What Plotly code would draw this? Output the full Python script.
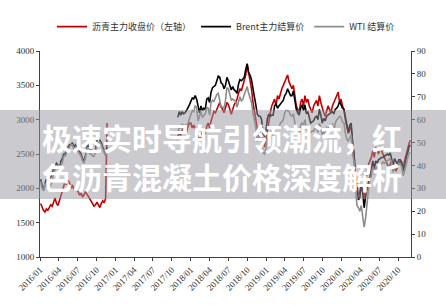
import pandas as pd
import plotly.graph_objects as go

# ---- data (weekly) ----
series_names = ["沥青主力收盘价（左轴）", "Brent主力结算价", "WTI 结算价"]

# segment 1: weekly from 2016-01-04
asphalt_2016 = [1780, 1720, 1680, 1650,
                1700, 1680, 1720, 1760, 1740,
                1800, 1860, 1780, 1750,
                1820, 1900, 1980, 2050,
                2100, 2050, 2120, 2080, 2000,
                2050, 1980, 2020, 1960,
                1950, 1900, 1930, 1880,
                1900, 1950, 1920, 1880, 1860,
                1820, 1780, 1740, 1760,
                1800, 1760, 1720, 1780, 1820,
                1790, 1850, 2950]
brent_2016 = [34, 31, 29, 32,
              34, 33, 34, 35, 36,
              39, 40, 41, 40,
              38, 42, 43, 45,
              45, 47, 48, 49, 49,
              50, 48, 49, 48,
              47, 46, 45, 43,
              42, 44, 48, 49, 47,
              47, 46, 46, 47,
              51, 52, 51, 50, 48,
              46, 45, 48]
wti_2016 = [33, 30, 29, 32,
            31, 29, 30, 32, 33,
            37, 38, 40, 39,
            36, 40, 41, 44,
            44, 46, 47, 48, 49,
            49, 47, 48, 47,
            46, 45, 44, 42,
            41, 43, 47, 48, 45,
            45, 44, 44, 46,
            49, 50, 50, 49, 47,
            45, 44, 47]

# segment 2: weekly from 2017-10-30
asphalt_1720 = [2750, 2800, 2780, 2850, 2900, 2870, 2820, 2900, 2950,
                2950, 2880, 2920, 2860, 2800,
                2750, 2700, 2780, 2820,
                2850, 2790, 2900, 2950,
                2880, 2980, 3050, 3120, 3100,
                3150, 3200, 3250, 3180,
                3150, 3100, 3180, 3250,
                3220, 3150, 3080, 3150, 3220,
                3250, 3300, 3380, 3450,
                3420, 3500, 3550, 3650,
                3800, 3700, 3600, 3450, 3250,
                3150, 3000, 2850, 2750,
                2700, 2750, 2650, 2600, 2700,
                2850, 2950, 3100, 3200,
                3250, 3300, 3200, 3350,
                3300, 3400, 3450, 3500,
                3550, 3600, 3650, 3550, 3500,
                3450, 3500, 3350, 3200,
                3150, 3100, 3250, 3300,
                3200, 3350, 3250, 3300, 3200,
                3150, 3100, 3200, 3250,
                3280, 3200, 3350, 3250, 3150,
                3100, 3050, 3150, 3200,
                3150, 3100, 3200, 3250,
                3300, 3350, 3400, 3250, 3300,
                3200, 3150, 3000, 2900,
                2800, 2850, 2900, 2650,
                2500, 2200, 2000, 1900, 1950,
                2050, 2000, 1850, 2100,
                2250, 2350, 2400, 2450,
                2550, 2450, 2600, 2550, 2500,
                2600, 2550, 2500, 2450,
                2400, 2350, 2300, 2350, 2400,
                2350, 2300, 2250, 2300,
                2350, 2400, 2350, 2300,
                2400, 2500, 2600, 2650, 2700]
brent_1720 = [61, 63.5, 62, 63.5, 62.5, 63, 64, 65, 66.5,
              68, 69.5, 69, 70.5, 69,
              65, 63, 66, 64,
              65, 64.5, 69, 69.5,
              67.5, 72, 74, 74.5, 75,
              77, 79, 78.5, 76,
              75.5, 73.5, 75, 78.5,
              77, 75, 73, 74.5, 73,
              72.5, 71.5, 75.5, 77.5,
              77, 78, 78.5, 82,
              84.5, 80.5, 79.5, 77.5, 73,
              70, 66.5, 62.5, 61.5,
              61.5, 60, 54, 52.5, 55,
              60.5, 62.5, 61.5, 62,
              62, 66, 67, 65,
              66, 67, 67.5, 68.5,
              70.5, 71.5, 73.5, 72, 70.5,
              70.5, 72.5, 68.5, 64.5,
              63, 62, 65, 66.5,
              64, 66.5, 62.5, 63.5, 61,
              58.5, 59, 59.5, 61,
              61.5, 60, 64.5, 62, 58.5,
              60.5, 59.5, 61.5, 62,
              62.5, 63, 63.5, 62.5,
              64.5, 65, 66, 68, 66.5,
              65, 64.5, 60.5, 58,
              54.5, 57.5, 58.5, 50,
              45, 33.5, 28, 25, 26,
              31.5, 28, 21.5, 26.5,
              30.5, 32.5, 35, 38,
              42, 38.5, 42, 41, 42.5,
              43, 43.5, 43.5, 44,
              44.5, 45, 44.5, 45.5, 43,
              39.5, 43, 42, 40.5,
              42.5, 42.5, 41.5, 37.5,
              40, 43.5, 45, 48, 49]
wti_1720 = [54, 57, 56.5, 58, 57.5, 57.5, 57.5, 58.5, 60.5,
            61.5, 64, 63.5, 66, 65.5,
            59.5, 61.5, 63.5, 61,
            62, 62.5, 65.5, 65,
            62, 67.5, 68.5, 68, 69.5,
            71, 71.5, 67.5, 65.5,
            65.5, 65, 68.5, 74,
            73.5, 71, 68.5, 69, 68.5,
            68, 65.5, 68.5, 70,
            68, 69, 71, 73,
            74.5, 71.5, 69, 67.5, 63,
            60, 56.5, 50.5, 52.5,
            51.5, 51, 45.5, 45, 47.5,
            51.5, 53.5, 53.5, 55,
            53, 55.5, 57, 56,
            56, 58.5, 59, 60,
            63, 64, 64, 63.5, 62,
            61.5, 62.5, 58.5, 53.5,
            54, 52.5, 57.5, 58.5,
            57.5, 60, 55.5, 56, 54,
            54.5, 55, 55, 56.5,
            56.5, 54.5, 58.5, 56, 53.5,
            54.5, 53.5, 56.5, 56,
            57, 57.5, 58, 55,
            58.5, 60, 60.5, 61.5, 61,
            59, 58.5, 54, 51.5,
            50.5, 52, 53.5, 45,
            41.5, 31.5, 22.5, 21.5, 20,
            22.5, 18.5, 13, 17,
            24.5, 29.5, 33.5, 35.5,
            39.5, 36, 39.5, 38.5, 40.5,
            40.5, 40.5, 41.5, 41,
            41.5, 42, 42.5, 43, 41.5,
            37, 40.5, 40, 39.5,
            41, 40.5, 39.5, 35.5,
            37.5, 40, 42.5, 45.5, 45.5]

seg1_start = "2016-01-04"
seg2_start = "2017-10-30"
gap_date = "2017-04-01"

# ---- build x / y with a gap between the two segments ----
d1 = list(pd.date_range(seg1_start, periods=len(asphalt_2016), freq="7D"))
d2 = list(pd.date_range(seg2_start, periods=len(asphalt_1720), freq="7D"))
x_all = d1 + [pd.Timestamp(gap_date)] + d2


def join(a, b):
    return list(a) + [None] + list(b)


fig = go.Figure()
fig.add_trace(go.Scatter(x=x_all, y=join(asphalt_2016, asphalt_1720), name=series_names[0],
                         mode="lines", line=dict(color="#C00000", width=1.6), yaxis="y"))
fig.add_trace(go.Scatter(x=x_all, y=join(brent_2016, brent_1720), name=series_names[1],
                         mode="lines", line=dict(color="#000000", width=1.6), yaxis="y2"))
fig.add_trace(go.Scatter(x=x_all, y=join(wti_2016, wti_1720), name=series_names[2],
                         mode="lines", line=dict(color="#8C8C8C", width=1.6), yaxis="y2"))

W, H = 446, 305
L, R, T, B = 40, 35, 41, 44
pw, ph = W - L - R, H - T - B


def px_x(p):
    return (p - L) / pw


def px_y(p):
    return (H - B - p) / ph


tick_font = dict(family="Liberation Serif, Times New Roman, serif", size=9, color="#333333")

fig.update_layout(
    width=W, height=H,
    margin=dict(l=L, r=R, t=T, b=B),
    paper_bgcolor="white", plot_bgcolor="white",
    showlegend=True,
    legend=dict(orientation="h", x=px_x(226), xanchor="center", y=px_y(15), yanchor="middle",
                font=dict(family="Noto Sans CJK SC", size=9, color="#333333"),
                bgcolor="rgba(0,0,0,0)", itemwidth=30, tracegroupgap=0),
    xaxis=dict(type="date", range=["2016-01-01", "2020-12-03"],
               tick0="2016-01-01", dtick="M3", tickformat="%Y/%m", tickangle=-45,
               ticks="outside", ticklen=3, tickcolor="#404040",
               showline=True, linecolor="#404040", linewidth=1,
               showgrid=False, zeroline=False, tickfont=tick_font),
    yaxis=dict(range=[1000, 4000], dtick=500, ticks="outside", ticklen=3, tickcolor="#404040",
               showline=True, linecolor="#404040", linewidth=1,
               showgrid=False, zeroline=False, tickfont=tick_font),
    yaxis2=dict(range=[0, 90], dtick=10, overlaying="y", side="right",
                ticks="outside", ticklen=3, tickcolor="#404040",
                showline=True, linecolor="#404040", linewidth=1,
                showgrid=False, zeroline=False, tickfont=tick_font),
)

# translucent banner across the middle
fig.add_shape(type="rect", xref="paper", yref="paper",
              x0=px_x(0), x1=px_x(W), y0=px_y(199), y1=px_y(104),
              fillcolor="rgba(150,150,160,0.5)", line=dict(width=0), layer="above")

title_lines = ["极速实时导航引领潮流，红", "色沥青混凝土价格深度解析"]
fig.add_annotation(text="<b>" + "<br>".join(title_lines) + "</b>", xref="paper", yref="paper",
                   x=px_x(221.5), y=px_y(154), xanchor="center", yanchor="middle",
                   showarrow=False, align="left",
                   font=dict(family="Noto Sans CJK SC", size=30, color="white"))

fig.write_html("out.html")
